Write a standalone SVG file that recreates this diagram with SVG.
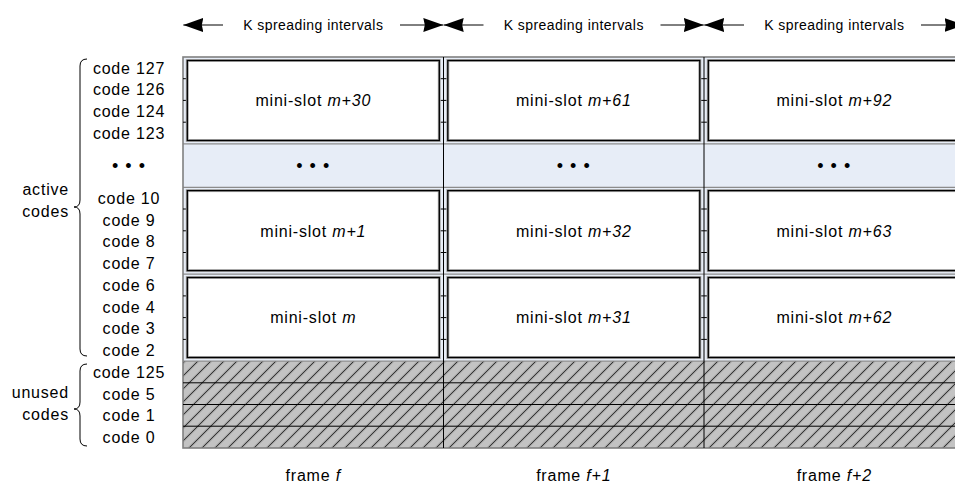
<svg xmlns="http://www.w3.org/2000/svg" width="955" height="487" viewBox="0 0 955 487">
<style>
.t{font-family:"Liberation Sans",Arial,sans-serif;font-size:16px;fill:#000;letter-spacing:0.8px}
.tm{text-anchor:middle}
.te{text-anchor:end}
.top{font-size:14px;letter-spacing:0.45px}
.dots{font-size:18px;letter-spacing:1px}
.box{fill:#fff;stroke:#a8a8a8;stroke-width:3}
.boxi{fill:none;stroke:#000;stroke-width:1.3}
.tick{stroke:#000;stroke-width:1}
.gl{stroke:#8c8c8c;stroke-width:1.2}
.dv{stroke:#000;stroke-width:1}
.hl{stroke:#000;stroke-width:1}
.br{fill:none;stroke:#000;stroke-width:1}
.ar{stroke:#000;stroke-width:1}
</style>
<defs>
<marker id="ah" markerUnits="userSpaceOnUse" markerWidth="21" markerHeight="15" refX="20" refY="7" orient="auto" viewBox="0 0 21 15">
<path d="M0,0 L20,7 L0,14 L1.5,7 z" fill="#000"/>
</marker>
<pattern id="hatch" patternUnits="userSpaceOnUse" width="13" height="13">
<rect width="13" height="13" fill="#c3c3c3"/>
<path d="M-1,14 L14,-1 M-4,4 L4,-4 M9,17 L17,9" stroke="#9c9c9c" stroke-width="2.6"/>
<path d="M-1,14 L14,-1 M-4,4 L4,-4 M9,17 L17,9" stroke="#2a2a2a" stroke-width="0.9"/>
</pattern>
</defs>
<rect width="955" height="487" fill="#fff"/>

<!-- background grid -->
<g id="grid">
<rect x="183" y="57" width="782" height="304.1" fill="#e7edf7"/>
<rect x="183" y="361.1" width="782" height="86.9" fill="url(#hatch)"/>
<line class="gl" x1="183" y1="143.9" x2="965" y2="143.9"/>
<line class="gl" x1="183" y1="187.3" x2="965" y2="187.3"/>
<line class="gl" x1="183" y1="274.2" x2="965" y2="274.2"/>
<line class="gl" x1="183" y1="361.1" x2="965" y2="361.1"/>
<rect x="183" y="57" width="782" height="391" fill="none" stroke="#808080" stroke-width="1.6"/>
<line class="hl" x1="183" y1="382.8" x2="965" y2="382.8"/>
<line class="hl" x1="183" y1="404.5" x2="965" y2="404.5"/>
<line class="hl" x1="183" y1="426.2" x2="965" y2="426.2"/>
<line class="dv" x1="443.5" y1="57" x2="443.5" y2="448"/>
<line class="dv" x1="704" y1="57" x2="704" y2="448"/>
<g>
<line class="tick" x1="183" y1="78.7" x2="965" y2="78.7"/>
<line class="tick" x1="183" y1="100.4" x2="965" y2="100.4"/>
<line class="tick" x1="183" y1="122.2" x2="965" y2="122.2"/>
<line class="tick" x1="183" y1="209" x2="965" y2="209"/>
<line class="tick" x1="183" y1="230.8" x2="965" y2="230.8"/>
<line class="tick" x1="183" y1="252.5" x2="965" y2="252.5"/>
<line class="tick" x1="183" y1="295.9" x2="965" y2="295.9"/>
<line class="tick" x1="183" y1="317.6" x2="965" y2="317.6"/>
<line class="tick" x1="183" y1="339.4" x2="965" y2="339.4"/>
</g>
</g>

<!-- column 1 -->
<g id="slot-m30">
<rect class="box" x="187.3" y="60.5" width="252" height="80"/><rect class="boxi" x="187.3" y="60.5" width="252" height="80"/>
<text class="t tm" x="313.25" y="106.2">mini-slot <tspan font-style="italic">m+30</tspan></text>
</g>
<g id="dots-f">
<text class="t tm dots" x="313.25" y="172">• • •</text>
</g>
<g id="slot-m1">
<rect class="box" x="187.3" y="190.6" width="252" height="80"/><rect class="boxi" x="187.3" y="190.6" width="252" height="80"/>
<text class="t tm" x="313.25" y="236.5">mini-slot <tspan font-style="italic">m+1</tspan></text>
</g>
<g id="slot-m">
<rect class="box" x="187.3" y="277.5" width="252" height="80"/><rect class="boxi" x="187.3" y="277.5" width="252" height="80"/>
<text class="t tm" x="313.25" y="323.4">mini-slot <tspan font-style="italic">m</tspan></text>
</g>

<!-- column 2 -->
<g id="slot-m61">
<rect class="box" x="447.8" y="60.5" width="252" height="80"/><rect class="boxi" x="447.8" y="60.5" width="252" height="80"/>
<text class="t tm" x="573.75" y="106.2">mini-slot <tspan font-style="italic">m+61</tspan></text>
</g>
<g id="dots-f1">
<text class="t tm dots" x="573.75" y="172">• • •</text>
</g>
<g id="slot-m32">
<rect class="box" x="447.8" y="190.6" width="252" height="80"/><rect class="boxi" x="447.8" y="190.6" width="252" height="80"/>
<text class="t tm" x="573.75" y="236.5">mini-slot <tspan font-style="italic">m+32</tspan></text>
</g>
<g id="slot-m31">
<rect class="box" x="447.8" y="277.5" width="252" height="80"/><rect class="boxi" x="447.8" y="277.5" width="252" height="80"/>
<text class="t tm" x="573.75" y="323.4">mini-slot <tspan font-style="italic">m+31</tspan></text>
</g>

<!-- column 3 -->
<g id="slot-m92">
<rect class="box" x="708.3" y="60.5" width="252" height="80"/><rect class="boxi" x="708.3" y="60.5" width="252" height="80"/>
<text class="t tm" x="834.25" y="106.2">mini-slot <tspan font-style="italic">m+92</tspan></text>
</g>
<g id="dots-f2">
<text class="t tm dots" x="834.25" y="172">• • •</text>
</g>
<g id="slot-m63">
<rect class="box" x="708.3" y="190.6" width="252" height="80"/><rect class="boxi" x="708.3" y="190.6" width="252" height="80"/>
<text class="t tm" x="834.25" y="236.5">mini-slot <tspan font-style="italic">m+63</tspan></text>
</g>
<g id="slot-m62">
<rect class="box" x="708.3" y="277.5" width="252" height="80"/><rect class="boxi" x="708.3" y="277.5" width="252" height="80"/>
<text class="t tm" x="834.25" y="323.4">mini-slot <tspan font-style="italic">m+62</tspan></text>
</g>

<!-- code labels -->
<g id="code-labels">
<text class="t tm" x="129" y="73.7">code 127</text>
<text class="t tm" x="129" y="95.4">code 126</text>
<text class="t tm" x="129" y="117.1">code 124</text>
<text class="t tm" x="129" y="138.8">code 123</text>
<text class="t tm dots" x="129" y="172">• • •</text>
<text class="t tm" x="129" y="204">code 10</text>
<text class="t tm" x="129" y="225.7">code 9</text>
<text class="t tm" x="129" y="247.4">code 8</text>
<text class="t tm" x="129" y="269.2">code 7</text>
<text class="t tm" x="129" y="290.9">code 6</text>
<text class="t tm" x="129" y="312.6">code 4</text>
<text class="t tm" x="129" y="334.3">code 3</text>
<text class="t tm" x="129" y="356">code 2</text>
<text class="t tm" x="129" y="377.8">code 125</text>
<text class="t tm" x="129" y="399.5">code 5</text>
<text class="t tm" x="129" y="421.2">code 1</text>
<text class="t tm" x="129" y="442.9">code 0</text>
</g>

<g id="active-codes">
<path class="br" d="M87,59 Q80,59 80,66 L80,200 Q80,207 74,207 Q80,207 80,214 L80,349 Q80,356 87,356"/>
<text class="t te" x="69" y="195">active</text>
<text class="t te" x="69" y="217">codes</text>
</g>
<g id="unused-codes">
<path class="br" d="M87,364 Q80,364 80,371 L80,402 Q80,409 74,409 Q80,409 80,416 L80,439 Q80,446 87,446"/>
<text class="t te" x="69" y="398">unused</text>
<text class="t te" x="69" y="420">codes</text>
</g>

<!-- spreading interval dimension arrows -->
<g id="connectors">
<line class="ar" x1="223" y1="25" x2="183.3" y2="25" marker-end="url(#ah)"/>
<line class="ar" x1="400" y1="25" x2="443.3" y2="25" marker-end="url(#ah)"/>
<line class="ar" x1="483.5" y1="25" x2="443.7" y2="25" marker-end="url(#ah)"/>
<line class="ar" x1="660.5" y1="25" x2="703.8" y2="25" marker-end="url(#ah)"/>
<line class="ar" x1="744" y1="25" x2="704.2" y2="25" marker-end="url(#ah)"/>
<line class="ar" x1="921" y1="25" x2="964.5" y2="25" marker-end="url(#ah)"/>
</g>
<g id="interval-labels">
<text class="t tm top" x="313.25" y="29.5">K spreading intervals</text>
<text class="t tm top" x="573.75" y="29.5">K spreading intervals</text>
<text class="t tm top" x="834.25" y="29.5">K spreading intervals</text>
</g>

<g id="frame-labels">
<text class="t tm" x="313.25" y="481">frame <tspan font-style="italic">f</tspan></text>
<text class="t tm" x="573.75" y="481">frame <tspan font-style="italic">f+1</tspan></text>
<text class="t tm" x="834.25" y="481">frame <tspan font-style="italic">f+2</tspan></text>
</g>
</svg>
